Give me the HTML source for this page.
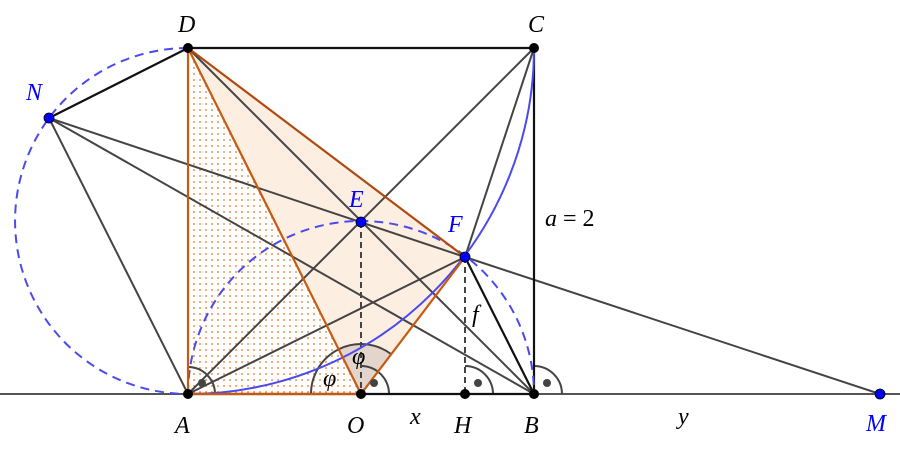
<!DOCTYPE html><html><head><style>body{margin:0;background:#fff}svg{display:block}text{font-family:"Liberation Serif",serif;font-style:italic;font-size:24px}</style></head><body>
<svg width="900" height="453" viewBox="0 0 900 453">
<defs><pattern id="dots" width="6" height="6" patternUnits="userSpaceOnUse"><circle cx="2" cy="2" r="0.9" fill="#f07020"/></pattern></defs>
<polygon points="188,48 188,394 361,394" fill="url(#dots)"/>
<polygon points="188,48 465,257 361,394" fill="#fdeee2"/>
<path d="M361,394 L338.6,349.3 A50,50 0 0 1 391.2,354.2 Z" fill="#e3d5cc"/>
<line x1="0" y1="394" x2="900" y2="394" stroke="#555" stroke-width="2"/>
<g stroke="#444" stroke-width="2" fill="none">
<line x1="188" y1="394" x2="534" y2="48"/><line x1="188" y1="394" x2="465" y2="257"/>
<line x1="188" y1="48" x2="534" y2="394"/><line x1="49" y1="118" x2="465" y2="257"/>
<line x1="49" y1="118" x2="534" y2="394"/><line x1="49" y1="118" x2="188" y2="394"/>
<line x1="465" y1="257" x2="880" y2="394"/><line x1="465" y1="257" x2="534" y2="48"/>
<path d="M215,394 A27,27 0 0 0 188,367"/><path d="M389,394 A28,28 0 0 0 361,366"/>
<path d="M311,394 A50,50 0 0 1 391.2,354.2"/>
<path d="M493,394 A28,28 0 0 0 465,366"/><path d="M562,394 A28,28 0 0 0 534,366"/>
</g>
<g stroke="#111" stroke-width="2.2"><line x1="188" y1="48" x2="534" y2="48"/><line x1="534" y1="48" x2="534" y2="394"/><line x1="188" y1="394" x2="534" y2="394"/><line x1="49" y1="118" x2="188" y2="48"/><line x1="465" y1="257" x2="534" y2="394"/></g>
<g stroke="#444" stroke-width="2" stroke-dasharray="6,4"><line x1="361" y1="222" x2="361" y2="394"/><line x1="465" y1="257" x2="465" y2="394"/></g>
<g stroke="#4a4aee" stroke-width="2" fill="none">
<path d="M188,394 A346,346 0 0 0 534,48"/>
<path d="M188,394 A173,173 0 0 1 534,394" stroke-dasharray="9,6"/>
<path d="M188,48 A173,173 0 0 0 188,394" stroke-dasharray="9,6"/>
</g>
<g stroke="#c85a10" stroke-width="2.2" fill="none"><line x1="188" y1="48" x2="188" y2="394"/><line x1="188" y1="394" x2="361" y2="394"/><line x1="188" y1="48" x2="361" y2="394"/><line x1="361" y1="394" x2="465" y2="257"/><line x1="188" y1="48" x2="465" y2="257" stroke="#b04a10"/></g>
<g fill="#444"><circle cx="202" cy="383" r="4"/><circle cx="374" cy="383" r="4"/><circle cx="478" cy="383" r="4"/><circle cx="547" cy="383" r="4"/></g>
<g fill="#000"><circle cx="188" cy="394" r="5"/><circle cx="534" cy="394" r="5"/><circle cx="534" cy="48" r="5"/><circle cx="188" cy="48" r="5"/><circle cx="361" cy="394" r="5"/><circle cx="465" cy="394" r="5"/></g>
<g fill="#0000ff" stroke="#000" stroke-width="0.8"><circle cx="880" cy="394" r="5"/><circle cx="49" cy="118" r="5"/><circle cx="361" cy="222" r="5"/><circle cx="465" cy="257" r="5"/></g>
<g fill="#000"><text x="178" y="32">D</text><text x="528" y="32">C</text><text x="175" y="433">A</text><text x="347" y="433">O</text><text x="454" y="433">H</text><text x="524" y="433">B</text><text x="410" y="424">x</text><text x="678" y="424">y</text><text x="545" y="226">a <tspan font-style="normal">= 2</tspan></text><text x="472" y="322">f</text><text x="323" y="386">φ</text><text x="352" y="364">φ</text></g>
<g fill="#0000ff"><text x="866" y="431">M</text><text x="26" y="100">N</text><text x="349" y="207">E</text><text x="448" y="232">F</text></g>
</svg></body></html>
